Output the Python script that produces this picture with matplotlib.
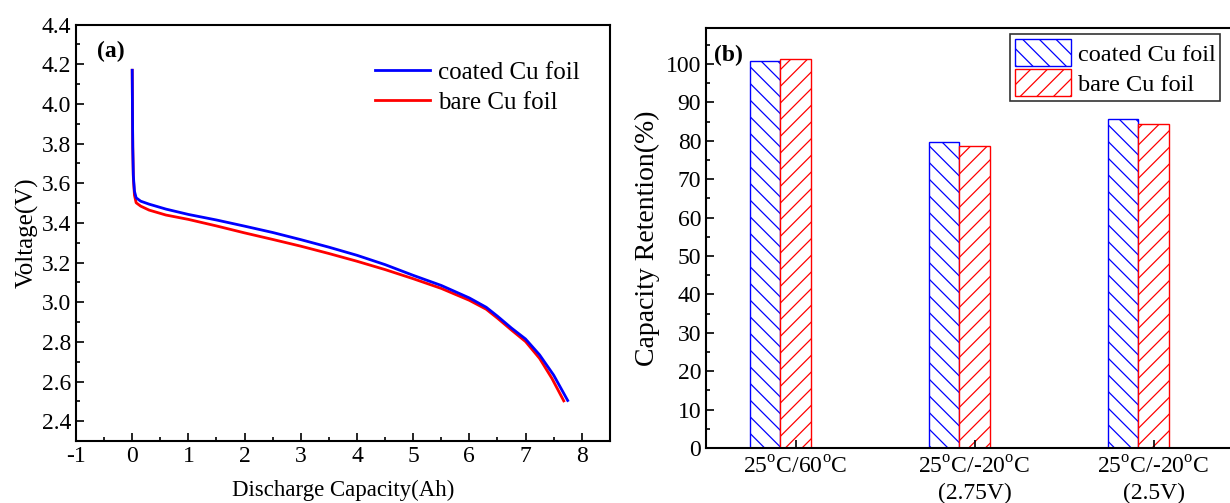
import matplotlib
matplotlib.use("Agg")
import matplotlib.pyplot as plt
from matplotlib.ticker import MultipleLocator

plt.rcParams["font.family"] = ["Liberation Serif", "DejaVu Serif"]
plt.rcParams["mathtext.fontset"] = "custom"
plt.rcParams["mathtext.rm"] = "Liberation Serif"
plt.rcParams["axes.unicode_minus"] = False
plt.rcParams["hatch.linewidth"] = 0.9

# (a) discharge curves
coated_cap = [0.0, 0.005, 0.01, 0.02, 0.04, 0.07, 0.15, 0.3, 0.6, 1.0, 1.5, 2.0, 2.5,
              3.0, 3.5, 4.0, 4.5, 5.0, 5.5, 6.0, 6.3, 6.5, 6.75, 7.0, 7.25, 7.5, 7.75]
coated_v = [4.17, 3.95, 3.78, 3.64, 3.56, 3.527, 3.51, 3.495, 3.47, 3.443, 3.415, 3.384, 3.352,
            3.316, 3.278, 3.237, 3.19, 3.136, 3.085, 3.022, 2.975, 2.93, 2.87, 2.815, 2.735, 2.633, 2.505]
bare_cap = [0.0, 0.005, 0.01, 0.02, 0.04, 0.07, 0.15, 0.3, 0.6, 1.0, 1.5, 2.0, 2.5,
            3.0, 3.5, 4.0, 4.5, 5.0, 5.5, 6.0, 6.3, 6.5, 6.75, 7.0, 7.25, 7.47, 7.68]
bare_v = [4.17, 3.95, 3.78, 3.63, 3.54, 3.502, 3.485, 3.465, 3.44, 3.418, 3.385, 3.35, 3.317,
          3.283, 3.246, 3.207, 3.165, 3.119, 3.07, 3.01, 2.965, 2.92, 2.86, 2.802, 2.717, 2.616, 2.503]

# (b) capacity retention
conditions = ["25$^{\\rm o}$C/60$^{\\rm o}$C",
              "25$^{\\rm o}$C/-20$^{\\rm o}$C\n(2.75V)",
              "25$^{\\rm o}$C/-20$^{\\rm o}$C\n(2.5V)"]
coated_ret = [100.9, 79.8, 85.8]
bare_ret = [101.2, 78.7, 84.4]

fig = plt.figure(figsize=(12.3, 5.03), dpi=100)

# ---- panel (a)
ax1 = fig.add_axes([0.0618, 0.123, 0.434, 0.828])
ax1.plot(coated_cap, coated_v, color="#0000ff", lw=2, label="coated Cu foil", zorder=3)
ax1.plot(bare_cap, bare_v, color="#ff0000", lw=2, label="bare Cu foil", zorder=2)
ax1.set_xlim(-1, 8.5)
ax1.set_ylim(2.3, 4.4)
ax1.xaxis.set_major_locator(MultipleLocator(1))
ax1.xaxis.set_minor_locator(MultipleLocator(0.5))
ax1.yaxis.set_major_locator(MultipleLocator(0.2))
ax1.yaxis.set_minor_locator(MultipleLocator(0.1))
ax1.yaxis.set_major_formatter(matplotlib.ticker.FormatStrFormatter("%.1f"))
ax1.tick_params(which="both", direction="in", labelsize=17, width=1.2)
ax1.tick_params(which="major", length=6)
ax1.tick_params(which="minor", length=3)
for s in ax1.spines.values():
    s.set_linewidth(1.5)
ax1.set_xlabel("Discharge Capacity(Ah)", fontsize=16.5, labelpad=9)
ax1.set_ylabel("Voltage(V)", fontsize=18, labelpad=2)
ax1.text(0.04, 0.935, "(a)", transform=ax1.transAxes, fontsize=17, fontweight="bold",
         va="center")
ax1.legend(loc="upper right", frameon=False, fontsize=18, handlelength=2.2,
           handletextpad=0.3, bbox_to_anchor=(0.985, 0.965), labelspacing=0.3)

# ---- panel (b)
ax2 = fig.add_axes([0.574, 0.1093, 0.4366, 0.835])
pos = [1, 2, 3]
w = 0.168
ax2.bar([p - w for p in pos], coated_ret, width=w, facecolor="white", edgecolor="#0000ff",
        hatch="\\\\", lw=1, label="coated Cu foil")
ax2.bar(pos, bare_ret, width=w, facecolor="white", edgecolor="#ff0000",
        hatch="//", lw=1, label="bare Cu foil")
ax2.set_xlim(0.5, 3.5)
ax2.set_ylim(0, 109.4)
ax2.set_xticks(pos)
ax2.set_xticklabels(conditions, linespacing=1.3, fontsize=17)
ax2.yaxis.set_major_locator(MultipleLocator(10))
ax2.yaxis.set_minor_locator(MultipleLocator(5))
ax2.tick_params(which="both", direction="in", labelsize=17, width=1.2)
ax2.tick_params(which="major", length=6)
ax2.tick_params(which="minor", length=3)
ax2.tick_params(axis="x", pad=6)
for s in ax2.spines.values():
    s.set_linewidth(1.5)
ax2.set_ylabel("Capacity Retention(%)", fontsize=20, labelpad=4)
ax2.text(0.015, 0.935, "(b)", transform=ax2.transAxes, fontsize=17, fontweight="bold",
         va="center")
leg = ax2.legend(loc="upper right", bbox_to_anchor=(0.958, 0.985), fontsize=17.5,
                 fancybox=False, edgecolor="black", handlelength=2.3, handleheight=1.3,
                 borderpad=0.2, labelspacing=0.15, handletextpad=0.3, borderaxespad=0)
leg.get_frame().set_linewidth(1.2)

fig.savefig("out.png", dpi=100)
